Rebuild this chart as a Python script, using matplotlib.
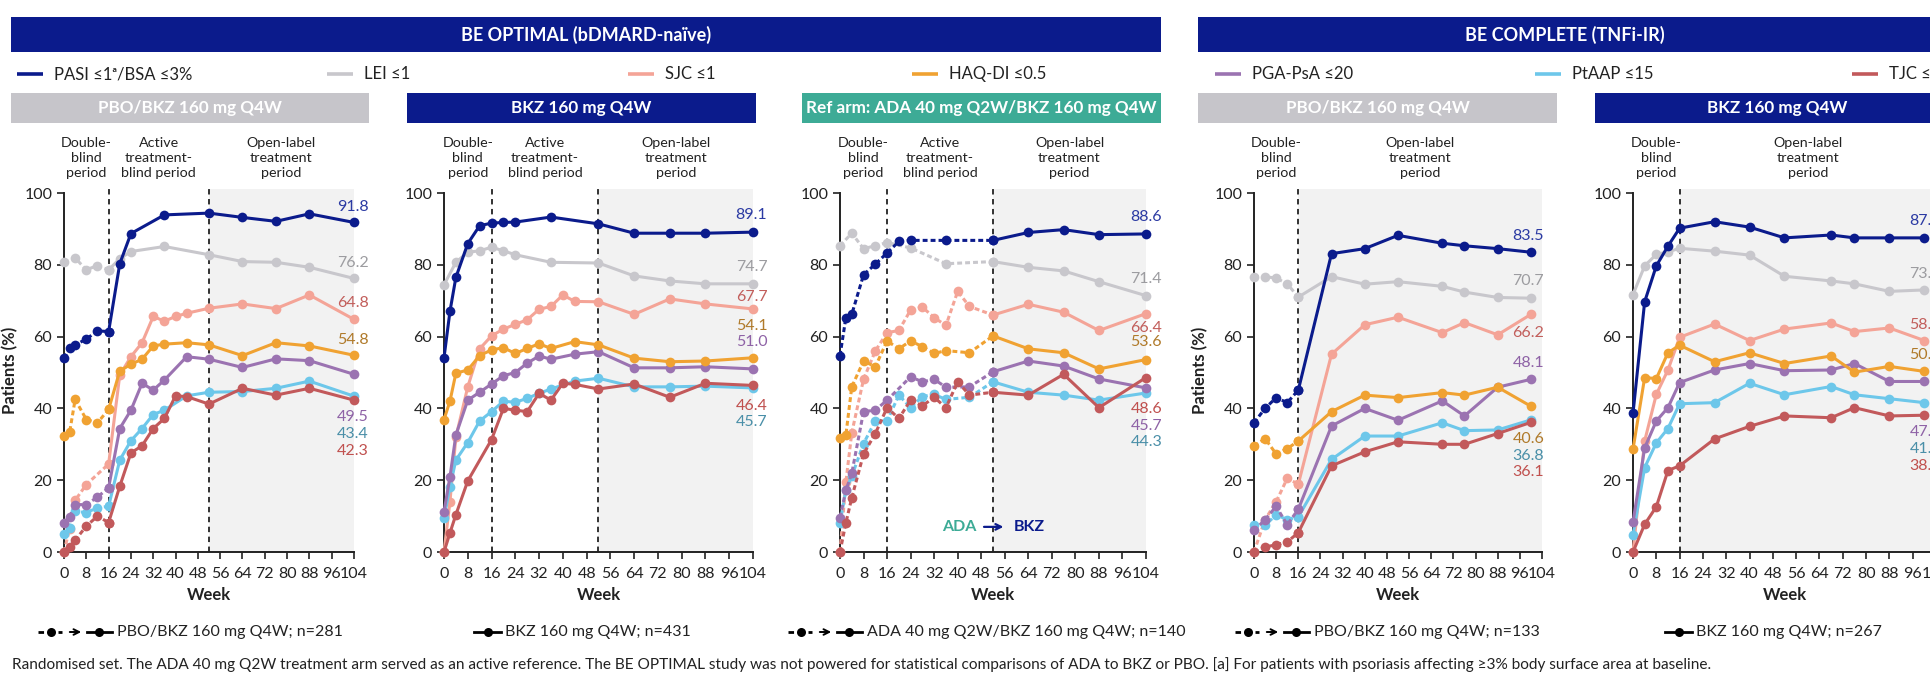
import numpy as np
import matplotlib
matplotlib.use("Agg")
import matplotlib.pyplot as plt
from matplotlib.patches import Rectangle

plt.rcParams['font.family'] = ['Lato', 'DejaVu Sans']

N = None

# ---- data -------------------------------------------------------------
WEEKS_OPT = [0, 2, 4, 8, 12, 16, 20, 24, 28, 32, 36, 40, 44, 52, 64, 76, 88, 104]
WEEKS_COMP = [0, 4, 8, 12, 16, 28, 40, 52, 68, 76, 88, 100]

SERIES = ['PASI', 'LEI', 'SJC', 'HAQ', 'PGA', 'PTAAP', 'TJC']
SERIES_LABELS = ['PASI ≤1ᵃ/BSA ≤3%', 'LEI ≤1', 'SJC ≤1', 'HAQ-DI ≤0.5',
                 'PGA-PsA ≤20', 'PtAAP ≤15', 'TJC ≤1']

# BE OPTIMAL, PBO/BKZ 160 mg Q4W
OPT_PBO_PASI = [54.0, 56.7, 57.7, 59.3, 61.6, 61.4, 80.3, 88.7, N, N, 93.9, N, N, 94.4, 93.2, 92.1, 94.2, 91.8]
OPT_PBO_LEI = [80.7, N, 81.9, 78.6, 79.8, 78.6, 81.7, 83.7, N, N, 85.1, N, N, 82.8, 80.9, 80.7, 79.3, 76.2]
OPT_PBO_SJC = [0.0, 6.5, 14.4, 18.8, N, 24.5, 49.3, 54.4, 58.3, 65.6, 64.3, 65.6, 66.5, 67.9, 69.1, 67.8, 71.6, 64.8]
OPT_PBO_HAQ = [32.4, 33.3, 42.5, 36.9, 36.0, 39.7, 50.4, 52.3, 53.7, 57.4, 57.9, N, 58.3, 57.7, 54.7, 58.3, 57.4, 54.8]
OPT_PBO_PGA = [8.2, 9.8, 13.2, 13.2, 15.3, 17.9, 34.4, 39.5, 47.0, 45.1, 47.9, N, 54.4, 53.7, 51.4, 53.8, 53.3, 49.5]
OPT_PBO_PTAAP = [4.9, 6.8, 11.3, 11.0, 12.3, 12.7, 25.6, 31.0, 34.4, 38.3, 39.5, N, 43.5, 44.5, 44.7, 45.6, 47.6, 43.4]
OPT_PBO_TJC = [0.0, 1.4, 3.3, 7.2, 10.0, 8.2, 18.3, 27.6, 29.6, 34.4, 37.2, 43.5, 43.3, 41.2, 45.6, 43.7, 45.6, 42.3]

# BE OPTIMAL, BKZ 160 mg Q4W
OPT_BKZ_PASI = [54.1, 67.0, 76.5, 85.9, 90.9, 91.6, 91.8, 91.9, N, N, 93.3, N, N, 91.4, 88.8, 88.8, 88.8, 89.1]
OPT_BKZ_LEI = [74.4, N, 80.7, 83.5, 83.9, 84.9, 83.9, 82.8, N, N, 80.7, N, N, 80.5, 76.9, 75.5, 74.7, 74.7]
OPT_BKZ_SJC = [0.0, 14.0, 32.0, 46.0, 56.6, 60.2, 62.1, 63.4, 64.7, 67.6, 68.4, 71.6, 69.8, 69.7, 66.2, 70.5, 69.1, 67.7]
OPT_BKZ_HAQ = [36.9, 42.0, 49.8, 50.7, 54.7, 56.3, 56.9, 55.3, 56.7, 58.0, 56.7, N, 58.6, 57.7, 54.0, 53.0, 53.2, 54.1]
OPT_BKZ_PGA = [11.2, 20.9, 32.6, 42.3, 44.5, 46.8, 49.1, 50.0, 52.6, 54.6, 53.7, N, 55.1, 55.8, 51.3, 51.3, 51.6, 51.0]
OPT_BKZ_PTAAP = [9.5, 18.1, 25.6, 30.5, 36.5, 39.1, 42.0, 41.7, 42.8, 44.2, 45.4, N, 47.6, 48.4, 46.0, 46.0, 46.2, 45.7]
OPT_BKZ_TJC = [0.0, 5.3, 10.4, 19.8, N, 31.3, 40.0, 39.5, 39.1, 44.2, 42.3, 47.0, 46.7, 45.4, 46.8, 43.1, 47.0, 46.4]

# BE OPTIMAL, ref arm ADA 40 mg Q2W/BKZ 160 mg Q4W
OPT_ADA_PASI = [54.7, 65.3, 66.2, 77.2, 80.2, 83.3, 86.5, 86.8, N, N, 86.8, N, N, 86.8, 89.0, 89.8, 88.4, 88.6]
OPT_ADA_LEI = [85.3, N, 88.8, 84.5, 85.3, 86.2, N, 84.7, N, N, 80.3, N, N, 80.9, 79.3, 78.3, 75.3, 71.4]
OPT_ADA_SJC = [0.0, 19.5, 33.2, 48.1, 56.0, 61.1, 61.7, 67.4, 68.2, 65.3, 63.1, 72.6, 68.4, 66.0, 69.0, 66.8, 61.7, 66.4]
OPT_ADA_HAQ = [31.8, 32.6, 46.0, 53.2, 51.6, 58.8, 56.6, 58.8, 57.2, 55.3, 56.1, N, 55.5, 60.2, 56.6, 55.5, 51.0, 53.6]
OPT_ADA_PGA = [9.6, 17.2, 21.9, 39.1, 39.5, 42.3, N, 48.8, 47.4, 48.1, 45.9, N, 46.0, 50.2, 53.2, 51.8, 48.2, 45.7]
OPT_ADA_PTAAP = [8.1, 17.2, 21.1, 30.2, 36.5, 36.5, 43.7, 40.2, 43.3, 43.9, 42.5, N, 43.1, 47.4, 44.5, 43.7, 42.3, 44.3]
OPT_ADA_TJC = [0.0, 8.1, 15.1, 27.3, 33.0, 40.2, 37.2, 42.3, 40.7, 43.1, 40.2, 47.4, 43.7, 44.5, 43.7, 49.5, 40.2, 48.6]

# BE COMPLETE, PBO/BKZ 160 mg Q4W
COMP_PBO_PASI = [36.0, 40.0, 43.0, 41.6, 45.1, 83.1, 84.5, 88.2, 86.0, 85.3, 84.5, 83.5]
COMP_PBO_LEI = [76.7, 76.7, 76.3, 74.7, 71.0, 76.7, 74.6, 75.3, 74.0, 72.4, 70.9, 70.7]
COMP_PBO_SJC = [0.0, 9.0, 14.0, 20.5, 18.9, 55.1, 63.3, 65.4, 61.1, 63.9, 60.5, 66.2]
COMP_PBO_HAQ = [29.5, 31.6, 27.3, 28.8, 30.9, 39.1, 43.7, 43.0, 44.4, 43.7, 45.9, 40.6]
COMP_PBO_PGA = [6.0, 9.0, 12.7, 7.6, 11.9, 35.1, 40.0, 36.7, 42.1, 37.9, 45.9, 48.1]
COMP_PBO_PTAAP = [7.4, 7.4, 10.4, 9.0, 9.8, 25.8, 32.3, 32.3, 36.0, 33.8, 34.0, 36.8]
COMP_PBO_TJC = [0.0, 1.4, 2.0, 2.8, 5.4, 24.0, 27.9, 30.7, 30.0, 30.0, 33.0, 36.1]

# BE COMPLETE, BKZ 160 mg Q4W
COMP_BKZ_PASI = [38.6, 69.7, 79.7, 85.2, 90.2, 92.0, 90.5, 87.5, 88.3, 87.5, 87.5, 87.5]
COMP_BKZ_LEI = [71.7, 79.7, 82.9, 83.6, 84.6, 83.8, 82.7, 76.8, 75.5, 74.7, 72.6, 73.0]
COMP_BKZ_SJC = [0.0, 30.9, 43.9, 50.7, 59.8, 63.5, 58.9, 62.1, 63.8, 61.4, 62.4, 58.9]
COMP_BKZ_HAQ = [28.6, 48.6, 48.3, 55.5, 57.6, 53.0, 55.5, 52.5, 54.6, 50.1, 51.7, 50.3]
COMP_BKZ_PGA = [8.3, 29.0, 36.5, 40.2, 47.2, 50.7, 52.5, 50.5, 50.7, 52.5, 47.5, 47.5]
COMP_BKZ_PTAAP = [4.8, 23.5, 30.4, 34.4, 41.3, 41.6, 47.0, 43.8, 46.1, 43.8, 42.7, 41.6]
COMP_BKZ_TJC = [0.0, 7.7, 12.6, 22.7, 24.0, 31.5, 35.0, 37.9, 37.4, 40.2, 37.9, 38.1]

PANEL_TITLES = ['PBO/BKZ 160 mg Q4W', 'BKZ 160 mg Q4W', 'Ref arm: ADA 40 mg Q2W/BKZ 160 mg Q4W',
                'PBO/BKZ 160 mg Q4W', 'BKZ 160 mg Q4W']
ARM_LEGENDS = ['PBO/BKZ 160 mg Q4W; n=281', 'BKZ 160 mg Q4W; n=431',
               'ADA 40 mg Q2W/BKZ 160 mg Q4W; n=140', 'PBO/BKZ 160 mg Q4W; n=133',
               'BKZ 160 mg Q4W; n=267']

FOOTNOTE = ('Randomised set. The ADA 40 mg Q2W treatment arm served as an active reference. '
            'The BE OPTIMAL study was not powered for statistical comparisons of ADA to BKZ or PBO. '
            '[a] For patients with psoriasis affecting ≥3% body surface area at baseline.')

# ---- style ------------------------------------------------------------
NAVY = '#0b1b8c'
GRAY_HDR = '#c6c5ca'
TEAL = '#3dab96'
SHADE = '#f2f2f2'
INK = '#222222'
LINE_COLORS = {'PASI': NAVY, 'LEI': '#c8c7cc', 'SJC': '#f4a497', 'HAQ': '#f0a232',
               'PGA': '#9b73b1', 'PTAAP': '#6dc7ea', 'TJC': '#c2595b'}
TEXT_COLORS = {'PASI': '#2b3aa3', 'LEI': '#9c9ca0', 'SJC': '#c25e5b', 'HAQ': '#b07a2a',
               'PGA': '#8e62a6', 'PTAAP': '#4a8fa8', 'TJC': '#c0504e'}
DRAW_ORDER = ['LEI', 'SJC', 'PTAAP', 'PGA', 'HAQ', 'TJC', 'PASI']
DASH = (0, (1.6, 1.0))

W, H = 1931, 675


def fx(px):
    return px / W


def fy(py):
    return 1 - py / H


def panel_data(prefix):
    g = globals()
    return {s: g[f'{prefix}_{s}'] for s in SERIES}


panels = [
    dict(x0=64, x1=354, weeks=WEEKS_OPT, data=panel_data('OPT_PBO'), switch=16,
         vlines=[16, 52], shade=52, header=GRAY_HDR, ylabel=True,
         periods=[(8, 'Double-\nblind\nperiod'), (34, 'Active\ntreatment-\nblind period'),
                  (78, 'Open-label\ntreatment\nperiod')],
         lab_x=109.2, lab_y={'PASI': 96.1, 'LEI': 80.5, 'SJC': 69.4, 'HAQ': 59.1,
                             'PGA': 37.6, 'PTAAP': 32.9, 'TJC': 28.1}),
    dict(x0=444, x1=753, weeks=WEEKS_OPT, data=panel_data('OPT_BKZ'), switch=None,
         vlines=[16, 52], shade=52, header=NAVY, ylabel=False,
         periods=[(8, 'Double-\nblind\nperiod'), (34, 'Active\ntreatment-\nblind period'),
                  (78, 'Open-label\ntreatment\nperiod')],
         lab_x=108.8, lab_y={'PASI': 93.9, 'LEI': 79.4, 'SJC': 71.0, 'HAQ': 63.0,
                             'PGA': 58.5, 'TJC': 40.7, 'PTAAP': 36.2}),
    dict(x0=840, x1=1146, weeks=WEEKS_OPT, data=panel_data('OPT_ADA'), switch=52,
         vlines=[16, 52], shade=52, header=TEAL, ylabel=False,
         periods=[(8, 'Double-\nblind\nperiod'), (34, 'Active\ntreatment-\nblind period'),
                  (78, 'Open-label\ntreatment\nperiod')],
         lab_x=109.5, lab_y={'PASI': 93.3, 'LEI': 76.0, 'SJC': 62.4, 'HAQ': 58.5,
                             'TJC': 39.8, 'PGA': 35.1, 'PTAAP': 30.6}),
    dict(x0=1254, x1=1542, weeks=WEEKS_COMP, data=panel_data('COMP_PBO'), switch=16,
         vlines=[16], shade=16, header=GRAY_HDR, ylabel=True,
         periods=[(8, 'Double-\nblind\nperiod'), (60, 'Open-label\ntreatment\nperiod')],
         lab_x=104.8, lab_y={'PASI': 88.0, 'LEI': 75.5, 'SJC': 61.0, 'PGA': 52.6,
                             'HAQ': 31.5, 'PTAAP': 26.7, 'TJC': 22.3}),
    dict(x0=1633, x1=1936, weeks=WEEKS_COMP, data=panel_data('COMP_BKZ'), switch=None,
         vlines=[16], shade=16, header=NAVY, ylabel=False,
         periods=[(8, 'Double-\nblind\nperiod'), (60, 'Open-label\ntreatment\nperiod')],
         lab_x=105.8, lab_y={'PASI': 92.2, 'LEI': 77.4, 'SJC': 63.2, 'HAQ': 54.8,
                             'PGA': 33.5, 'PTAAP': 28.7, 'TJC': 24.0}),
]

header_boxes = [(11, 369), (407, 756), (802, 1161), (1198, 1557), (1595, 1960)]
arm_legend_x = [38, 474, 788, 1235, 1665]

fig = plt.figure(figsize=(W / 100, H / 100), dpi=100)

# overlay for banners, headers, legends and footnote (pixel coordinates)
ov = fig.add_axes([0, 0, 1, 1])
ov.set_xlim(0, W)
ov.set_ylim(H, 0)
ov.axis('off')

ov.add_patch(Rectangle((11, 17), 1150, 35, color=NAVY, lw=0))
ov.text(586, 35, 'BE OPTIMAL (bDMARD-naïve)', color='white', fontsize=13,
        fontweight='bold', ha='center', va='center')
ov.add_patch(Rectangle((1198, 17), 760, 35, color=NAVY, lw=0))
ov.text(1565, 35, 'BE COMPLETE (TNFi-IR)', color='white', fontsize=13,
        fontweight='bold', ha='center', va='center')

legend_x = [17, 327, 628, 912, 1215, 1535, 1852]
for lx, s, lab in zip(legend_x, SERIES, SERIES_LABELS):
    ov.plot([lx, lx + 26], [74, 74], color=LINE_COLORS[s], lw=2.6, solid_capstyle='butt')
    ov.text(lx + 37, 74, lab, fontsize=12, color=INK, va='center', ha='left')

for (hx0, hx1), p, title in zip(header_boxes, panels, PANEL_TITLES):
    ov.add_patch(Rectangle((hx0, 93), hx1 - hx0, 30, color=p['header'], lw=0))
    ov.text((hx0 + hx1) / 2, 108.5, title, color='white', fontsize=12.3,
            fontweight='bold', ha='center', va='center')

# arm legends under each panel
ly = 632
for i, (lx, txt) in enumerate(zip(arm_legend_x, ARM_LEGENDS)):
    if panels[i]['switch'] is not None:
        ov.plot([lx, lx + 24], [ly, ly], color='black', lw=2, ls=(0, (2, 1.6)))
        ov.plot([lx + 13], [ly], 'o', color='black', ms=6.5, mew=0)
        ov.annotate('', xy=(lx + 46, ly), xytext=(lx + 29, ly),
                    arrowprops=dict(arrowstyle='->', color='black', lw=1.4))
        ov.plot([lx + 49, lx + 74], [ly, ly], color='black', lw=2)
        ov.plot([lx + 61], [ly], 'o', color='black', ms=6.5, mew=0)
        tx = lx + 79
    else:
        ov.plot([lx, lx + 27], [ly, ly], color='black', lw=2)
        ov.plot([lx + 14], [ly], 'o', color='black', ms=6.5, mew=0)
        tx = lx + 31
    ov.text(tx, ly, txt, fontsize=11.5, color=INK, va='center', ha='left')

ov.text(12, 665, FOOTNOTE, fontsize=11.1, color=INK, va='center', ha='left')

# ---- panels -----------------------------------------------------------
y_top = 552 - 101 * 3.59
for p in panels:
    ax = fig.add_axes([fx(p['x0']), fy(552), fx(p['x1'] - p['x0']), (552 - y_top) / H])
    ax.set_xlim(0, 104)
    ax.set_ylim(0, 101)
    ax.patch.set_alpha(0)
    ax.axvspan(p['shade'], 104, color=SHADE, lw=0, zorder=0)
    for v in p['vlines']:
        ax.plot([v, v], [0, 101], color=INK, lw=1.3, ls=(0, (3, 2.5)), zorder=1)

    weeks = np.array(p['weeks'])
    for s in DRAW_ORDER:
        vals = np.array(p['data'][s], dtype=float)
        ok = ~np.isnan(vals)
        w, v = weeks[ok], vals[ok]
        kw = dict(color=LINE_COLORS[s], lw=2.2, marker='o', ms=7, mew=0,
                  clip_on=False, zorder=4)
        if p['switch'] is None:
            ax.plot(w, v, ls='-', **kw)
        else:
            pre, post = w <= p['switch'], w >= p['switch']
            ax.plot(w[pre], v[pre], ls=DASH, **kw)
            ax.plot(w[post], v[post], ls='-', **kw)
        ax.text(p['lab_x'], p['lab_y'][s], f'{v[-1]:.1f}', color=TEXT_COLORS[s],
                fontsize=11.5, ha='right', va='center', clip_on=False)

    for wk, txt in p['periods']:
        ax.text(wk, 104.0, txt, fontsize=10.3, color=INK, ha='center', va='bottom',
                linespacing=1.3, clip_on=False)

    for side in ['top', 'right']:
        ax.spines[side].set_visible(False)
    ax.spines['left'].set_bounds(0, 100)
    for side in ['left', 'bottom']:
        ax.spines[side].set_color(INK)
        ax.spines[side].set_linewidth(1.4)
    ax.set_xticks(range(0, 105, 8))
    ax.set_yticks(range(0, 101, 20))
    ax.tick_params(direction='out', length=5, width=1.2, labelsize=11.5, colors=INK)
    ax.tick_params(axis='x', pad=6)
    ax.set_xlabel('Week', fontsize=12, fontweight='bold', color=INK, labelpad=4)
    if p['ylabel']:
        ax.set_ylabel('Patients (%)', fontsize=12, fontweight='bold', color=INK, labelpad=4)

    if p['switch'] == 52:
        ax.text(40.5, 7, 'ADA', color=TEAL, fontsize=11.5, fontweight='bold',
                ha='center', va='center')
        ax.annotate('', xy=(56.5, 7), xytext=(48, 7),
                    arrowprops=dict(arrowstyle='->', color=NAVY, lw=1.6))
        ax.text(59, 7, 'BKZ', color=NAVY, fontsize=11.5, fontweight='bold',
                ha='left', va='center')

fig.savefig('out.png', dpi=100, facecolor='white')
